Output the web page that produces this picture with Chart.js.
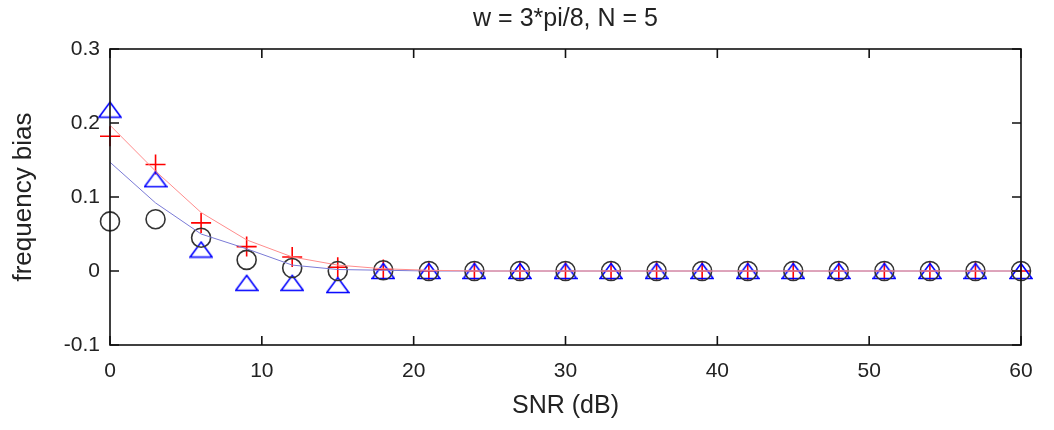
<!DOCTYPE html>
<html>
<head>
<meta charset="utf-8">
<script src="https://cdn.jsdelivr.net/npm/chart.js@4.4.0/dist/chart.umd.min.js"></script>
<style>
  html, body { margin: 0; padding: 0; background: #fff; }
  #wrap { width: 1054px; height: 430px; }
</style>
</head>
<body>
<div id="wrap"><canvas id="biasChart"></canvas></div>
<script>
// SNR values (dB)
const snr = [0, 3, 6, 9, 12, 15, 18, 21, 24, 27, 30, 33, 36, 39, 42, 45, 48, 51, 54, 57, 60];

// measured bias, three estimators
const circleBias = [0.067, 0.070, 0.045, 0.015, 0.004, 0.000, 0.001, 0, 0, 0, 0, 0, 0, 0, 0, 0, 0, 0, 0, 0, 0];
const plusBias = [0.182, 0.144, 0.065, 0.033, 0.019, 0.005, 0.002, 0, 0, 0, 0, 0, 0, 0, 0, 0, 0, 0, 0, 0, 0];
const triBias = [0.218, 0.124, 0.029, -0.016, -0.016, -0.019, 0, 0, 0, 0, 0, 0, 0, 0, 0, 0, 0, 0, 0, 0, 0];

// theoretical curves
const redCurve = [0.197, 0.135, 0.079, 0.042, 0.019, 0.008, 0.003, 0.001, 0, 0, 0, 0, 0, 0, 0, 0, 0, 0, 0, 0, 0];
const blueCurve = [0.147, 0.092, 0.050, 0.030, 0.008, 0.002, 0.001, 0, 0, 0, 0, 0, 0, 0, 0, 0, 0, 0, 0, 0, 0];

const xTicks = [0, 10, 20, 30, 40, 50, 60];
const yTicks = [-0.1, 0, 0.1, 0.2, 0.3];
const yTickLabels = ['-0.1', '0', '0.1', '0.2', '0.3'];

const FONT = '"Liberation Sans", Arial, sans-serif';

function pts(vals) {
    return snr.map((x, i) => ({ x: x, y: vals[i] }));
}

// MATLAB-like triangle marker, centred on its bounding box
const triMarker = document.createElement('canvas');
triMarker.width = 24;
triMarker.height = 18;
(function () {
    const c = triMarker.getContext('2d');
    c.strokeStyle = '#0000ff';
    c.lineWidth = 1.6;
    c.beginPath();
    c.moveTo(12, 1.5);
    c.lineTo(23, 16.5);
    c.lineTo(1, 16.5);
    c.closePath();
    c.stroke();
})();

// box with inward ticks on all four sides
const boxTicks = {
    id: 'boxTicks',
    afterDatasetsDraw(chart) {
        const { ctx, chartArea: a, scales: { x, y } } = chart;
        const len = 9;
        ctx.save();
        ctx.strokeStyle = '#111';
        ctx.lineWidth = 1.6;
        ctx.strokeRect(a.left, a.top, a.right - a.left, a.bottom - a.top);
        ctx.beginPath();
        xTicks.forEach(v => {
            const px = x.getPixelForValue(v);
            ctx.moveTo(px, a.bottom); ctx.lineTo(px, a.bottom - len);
            ctx.moveTo(px, a.top); ctx.lineTo(px, a.top + len);
        });
        yTicks.forEach(v => {
            const py = y.getPixelForValue(v);
            ctx.moveTo(a.left, py); ctx.lineTo(a.left + len, py);
            ctx.moveTo(a.right, py); ctx.lineTo(a.right - len, py);
        });
        ctx.stroke();
        ctx.restore();
    }
};

const ctx = document.getElementById('biasChart').getContext('2d');
const biasChart = new Chart(ctx, {
    type: 'scatter',
    data: {
        datasets: [
            {
                label: 'red curve',
                data: pts(redCurve),
                showLine: true,
                borderColor: '#ff8c8c',
                borderWidth: 1,
                pointRadius: 0,
                fill: false
            },
            {
                label: 'blue curve',
                data: pts(blueCurve),
                showLine: true,
                borderColor: '#7a7ad6',
                borderWidth: 1,
                pointRadius: 0,
                fill: false
            },
            {
                label: 'circle',
                data: pts(circleBias),
                pointStyle: 'circle',
                pointRadius: 9.5,
                borderColor: '#333',
                backgroundColor: 'rgba(0,0,0,0)',
                borderWidth: 1.6,
                clip: false
            },
            {
                label: 'triangle',
                data: pts(triBias),
                pointStyle: triMarker,
                pointRadius: 11,
                clip: false
            },
            {
                label: 'plus',
                data: pts(plusBias),
                pointStyle: 'cross',
                pointRadius: 10,
                borderColor: '#ff0000',
                borderWidth: 1.6,
                clip: false
            }
        ]
    },
    options: {
        responsive: true,
        maintainAspectRatio: false,
        animation: false,
        layout: { padding: { left: 0, right: 33, top: 0, bottom: 0 } },
        plugins: {
            legend: { display: false },
            tooltip: { enabled: false },
            title: {
                display: true,
                fullSize: false,
                text: 'w = 3*pi/8, N = 5',
                color: '#222',
                font: { family: FONT, size: 25, weight: 'normal' },
                padding: { top: 4, bottom: 15 }
            }
        },
        scales: {
            x: {
                type: 'linear',
                min: 0,
                max: 60,
                afterBuildTicks: (scale) => { scale.ticks = xTicks.map(v => ({ value: v })); },
                afterFit: (scale) => { scale.height = 85; },
                grid: { display: false, drawTicks: false },
                border: { display: false },
                ticks: {
                    color: '#222',
                    padding: 14,
                    maxRotation: 0,
                    font: { family: FONT, size: 21 }
                },
                title: {
                    display: true,
                    text: 'SNR (dB)',
                    color: '#222',
                    font: { family: FONT, size: 25 },
                    padding: { top: 0, bottom: 9 }
                }
            },
            y: {
                type: 'linear',
                min: -0.1,
                max: 0.3,
                afterBuildTicks: (scale) => { scale.ticks = yTicks.map(v => ({ value: v })); },
                afterFit: (scale) => { scale.width = 110; },
                grid: { display: false, drawTicks: false },
                border: { display: false },
                ticks: {
                    color: '#222',
                    padding: 10,
                    font: { family: FONT, size: 21 },
                    callback: (v) => {
                        const i = yTicks.findIndex(t => Math.abs(t - v) < 1e-9);
                        return i >= 0 ? yTickLabels[i] : '';
                    }
                },
                title: {
                    display: true,
                    text: 'frequency bias',
                    color: '#222',
                    font: { family: FONT, size: 26 },
                    padding: { top: 8, bottom: 0 }
                }
            }
        }
    },
    plugins: [boxTicks]
});
</script>
</body>
</html>
